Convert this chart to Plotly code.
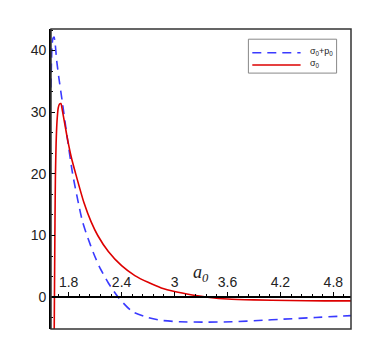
import plotly.graph_objects as go

# values
red_x = [1.636, 1.640, 1.645, 1.650, 1.658, 1.668, 1.682, 1.695, 1.712, 1.73, 1.755, 1.785,
         1.83, 1.88, 1.974, 2.055, 2.13, 2.25, 2.4, 2.55, 2.7, 2.85, 3.0, 3.2, 3.4, 3.6,
         3.9, 4.3, 4.7, 5.0]
red_y = [-6, 2, 12, 19.5, 25, 28.5, 30.7, 31.3, 31.4, 30.2, 28.2, 25.8,
         22.7, 20.0, 15.3, 12.2, 10.0, 7.4, 5.1, 3.5, 2.4, 1.5, 0.9, 0.35, -0.05, -0.3,
         -0.45, -0.55, -0.6, -0.6]

blue_x = [1.600, 1.605, 1.612, 1.622, 1.635, 1.648, 1.665, 1.69, 1.725, 1.78, 1.845, 1.914,
          1.958, 2.02, 2.08, 2.146, 2.25, 2.36, 2.52, 2.7, 2.83, 3.06, 3.34, 3.65, 4.0, 4.2,
          4.6, 5.0]
blue_y = [34, 38, 40.8, 42.0, 42.2, 41.0, 38.3, 35.5, 32.0, 26.3, 20.0, 15.0,
          12.2, 9.5, 7.2, 5.0, 2.3, 0, -2.33, -3.3, -3.73, -4.0, -4.05, -4.0, -3.75, -3.6,
          -3.3, -3.0]

x_ticks = [1.8, 2.4, 3.0, 3.6, 4.2, 4.8]
x_tick_labels = ["1.8", "2.4", "3", "3.6", "4.2", "4.8"]
y_ticks = [0, 10, 20, 30, 40]

series_names = ['σ<sub>0</sub>+p<sub>0</sub>', 'σ<sub>0</sub>']
series_colors = ['#3a3aff', '#dd0000']
series_dash = ['9px,6px', 'solid']

x_range = [1.6, 5.0]
y_range = [-5.17, 43.5]

FONT = "Liberation Sans, Arial, sans-serif"

fig = go.Figure()

for xs, ys, name, color, dash in zip([blue_x, red_x], [blue_y, red_y],
                                     series_names, series_colors, series_dash):
    fig.add_trace(go.Scatter(
        x=xs, y=ys, mode='lines',
        line=dict(color=color, width=1.6, dash=dash, shape='spline', smoothing=0.6),
        name=name, showlegend=False
    ))

# x axis sits on y = 0, labels above it
x_pos = (0 - y_range[0]) / (y_range[1] - y_range[0])

# hand-drawn legend box (plotly's own rows are too tall for this one)
shapes = [dict(type='rect', xref='paper', yref='paper', x0=0, y0=0, x1=1, y1=1,
               line=dict(color='#333', width=1.5), layer='above'),
          dict(type='rect', xref='paper', yref='paper', x0=0.658, y0=0.853, x1=0.952, y1=0.966,
               line=dict(color='#888', width=1), fillcolor='white', layer='above')]
annotations = []
for i, (name, color, dash) in enumerate(zip(series_names, series_colors, series_dash)):
    yy = 0.921 - i * 0.041
    shapes.append(dict(type='line', xref='paper', yref='paper', x0=0.671, x1=0.832, y0=yy, y1=yy,
                       line=dict(color=color, width=1.6, dash=dash), layer='above'))
    annotations.append(dict(x=0.855, y=yy + 0.004, xref='paper', yref='paper',
                            xanchor='left', yanchor='middle',
                            showarrow=False, text=name,
                            font=dict(family=FONT, size=9, color='#222')))

annotations.append(dict(
    x=3.3, y=3.9, xref='x', yref='y', showarrow=False,
    text='<i>a</i><sub><i>0</i></sub>',
    font=dict(family='Liberation Serif, Times New Roman, serif', size=18, color='#222'),
))

# the page puts an 8px body margin round the figure, so it is sized 8px smaller
fig.update_layout(
    width=382, height=340,
    margin=dict(l=43, r=39, t=21, b=19),
    paper_bgcolor='white', plot_bgcolor='white',
    font=dict(family=FONT, color='#222', size=14),
    showlegend=False,
    xaxis=dict(
        range=x_range, anchor='free', position=x_pos, side='top',
        tickvals=x_ticks, ticktext=x_tick_labels,
        ticks='outside', ticklen=4, tickwidth=1, tickcolor='black',
        minor=dict(dtick=0.12, tick0=1.8, ticks='outside', ticklen=2.5, tickcolor='black'),
        showline=True, linecolor='black', linewidth=1.5,
        showgrid=False, zeroline=False, automargin=False,
        tickfont=dict(size=14),
    ),
    yaxis=dict(
        range=y_range, tickvals=y_ticks,
        ticks='inside', ticklen=4, tickwidth=1, tickcolor='black',
        minor=dict(dtick=10 / 3, tick0=0, ticks='inside', ticklen=2.5, tickcolor='black'),
        showline=True, linecolor='black', linewidth=1.8,
        showgrid=False, zeroline=False, automargin=False,
        tickfont=dict(size=14),
    ),
    shapes=shapes,
    annotations=annotations,
)

fig.write_html("out.html")
